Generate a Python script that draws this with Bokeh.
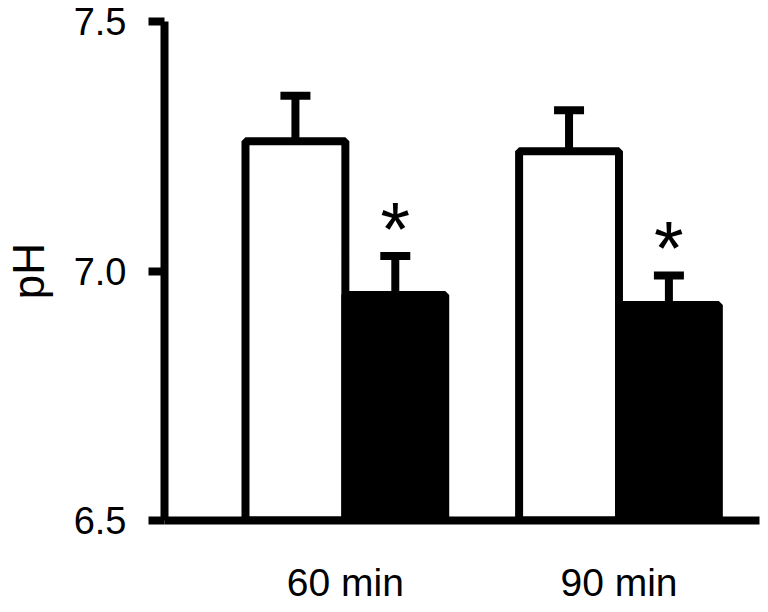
from bokeh.plotting import figure
from bokeh.models import ColumnDataSource, Whisker, TeeHead, FixedTicker, Range1d
from bokeh.core.properties import value
from bokeh.embed import file_html
from bokeh.resources import INLINE

# ---- data ----
groups = ["60 min", "90 min"]
control_mean = [7.26, 7.24]
control_err = [0.091, 0.082]
treated_mean = [6.952, 6.932]
treated_err = [0.078, 0.059]
significance = ["*", "*"]
y_ticks = [6.5, 7.0, 7.5]
y_tick_labels = ["6.5", "7.0", "7.5"]
y_min, y_max = 6.5, 7.5

FONT = "Liberation Sans"
dodge = 0.1825
bar_w = 0.365

idx = list(range(len(groups)))
ctrl_x = [i - dodge for i in idx]
trt_x = [i + dodge for i in idx]

ctrl = ColumnDataSource(dict(x=ctrl_x, top=control_mean,
                             upper=[m + e for m, e in zip(control_mean, control_err)]))
trt = ColumnDataSource(dict(x=trt_x, top=treated_mean,
                            upper=[m + e for m, e in zip(treated_mean, treated_err)],
                            sig=significance))

p = figure(width=768, height=612, output_backend="svg", toolbar_location=None,
           x_range=Range1d(-0.661, 1.5136), y_range=Range1d(y_min, y_max),
           min_border_left=161, min_border_right=9, min_border_top=21, min_border_bottom=92)
p.outline_line_color = None
p.xgrid.visible = False
p.ygrid.visible = False
p.background_fill_color = "white"
p.border_fill_color = "white"

for src in (ctrl, trt):
    w = Whisker(base="x", upper="upper", lower="top", source=src, dimension="height",
                line_color="black", line_width=8,
                upper_head=TeeHead(size=30, line_width=8, line_color="black"),
                lower_head=None)
    p.add_layout(w)

p.vbar(x="x", top="top", bottom=y_min, width=bar_w, source=ctrl,
       fill_color="white", line_color="black", line_width=8)
p.vbar(x="x", top="top", bottom=y_min, width=bar_w, source=trt,
       fill_color="black", line_color="black", line_width=8)

p.text(x="x", y="upper", text="sig", source=trt, text_font=value(FONT),
       text_font_size="76px", text_align="center", text_baseline="alphabetic",
       y_offset=-28, text_color="black")

# y axis
ya = p.yaxis[0]
ya.ticker = FixedTicker(ticks=y_ticks)
ya.major_label_overrides = {t: l for t, l in zip(y_ticks, y_tick_labels)}
ya.axis_line_width = 8
ya.major_tick_line_width = 8
ya.major_tick_out = 16
ya.major_tick_in = 0
ya.minor_tick_line_color = None
ya.major_label_standoff = 22
ya.major_label_text_font = FONT
ya.major_label_text_font_size = "38px"
ya.major_label_text_color = "black"
ya.axis_label = "pH"
ya.axis_label_text_font = FONT
ya.axis_label_text_font_size = "44px"
ya.axis_label_text_font_style = "normal"
ya.axis_label_text_color = "black"
ya.axis_label_standoff = 18

# x axis
xa = p.xaxis[0]
xa.ticker = FixedTicker(ticks=idx)
xa.major_label_overrides = {i: g for i, g in zip(idx, groups)}
xa.axis_line_width = 8
xa.major_tick_line_color = None
xa.major_tick_out = 0
xa.major_tick_in = 0
xa.minor_tick_line_color = None
xa.major_label_standoff = 40
xa.major_label_text_font = FONT
xa.major_label_text_font_size = "39px"
xa.major_label_text_color = "black"

open("out.html", "w").write(file_html(p, INLINE))
